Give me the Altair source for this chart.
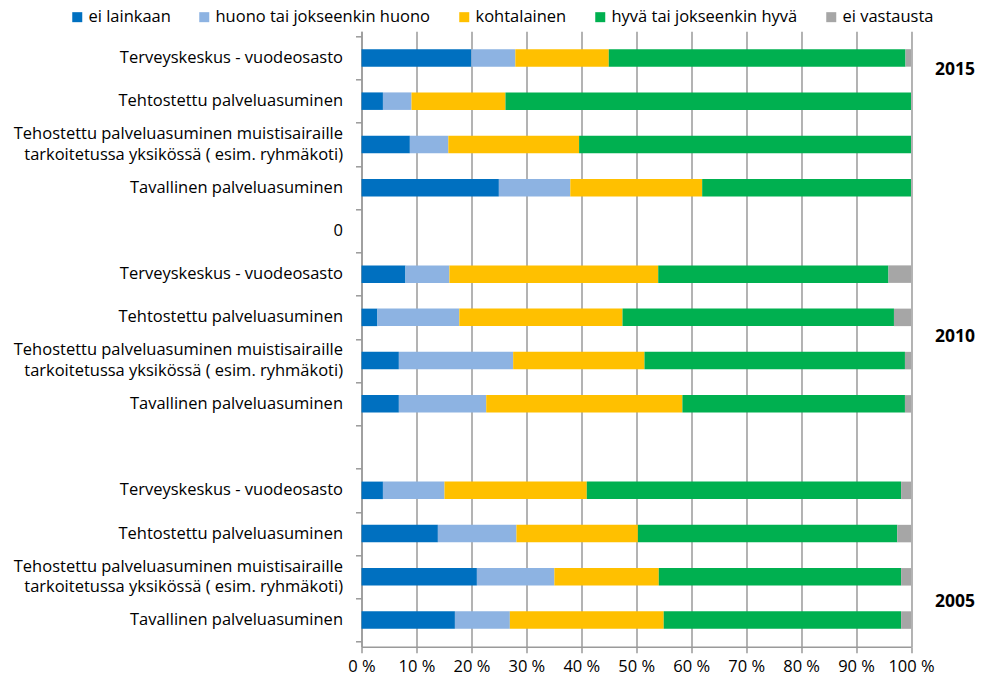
import altair as alt
import pandas as pd

# ---- data ----
row_labels = [
    "Terveyskeskus - vuodeosasto",
    "Tehtostettu palveluasuminen",
    "Tehostettu palveluasuminen muistisairaille\ntarkoitetussa yksikössä ( esim. ryhmäkoti)",
    "Tavallinen palveluasuminen",
    "0",
    "Terveyskeskus - vuodeosasto",
    "Tehtostettu palveluasuminen",
    "Tehostettu palveluasuminen muistisairaille\ntarkoitetussa yksikössä ( esim. ryhmäkoti)",
    "Tavallinen palveluasuminen",
    "",
    "Terveyskeskus - vuodeosasto",
    "Tehtostettu palveluasuminen",
    "Tehostettu palveluasuminen muistisairaille\ntarkoitetussa yksikössä ( esim. ryhmäkoti)",
    "Tavallinen palveluasuminen",
]
categories = ["ei lainkaan", "huono tai jokseenkin huono", "kohtalainen",
              "hyvä tai jokseenkin hyvä", "ei vastausta"]
colors = ["#0070C0", "#8DB3E2", "#FFC000", "#00B050", "#A6A6A6"]

ei_lainkaan = [20, 3.9, 8.8, 25, None, 8, 2.9, 6.8, 6.8, None, 3.9, 13.9, 21, 17]
huono = [8, 5.2, 7, 13, None, 8, 14.9, 20.8, 15.9, None, 11.2, 14.3, 14.1, 10]
kohtalainen = [17, 17.1, 23.8, 24, None, 38, 29.7, 23.9, 35.7, None, 25.9, 22.1, 19, 28]
hyva = [54, 73.8, 60.4, 38, None, 41.9, 49.4, 47.4, 40.5, None, 57.2, 47.2, 44.1, 43.2]
ei_vastausta = [1, 0, 0, 0, None, 4.1, 3.1, 1.1, 1.1, None, 1.8, 2.5, 1.8, 1.8]

years = ["2015", "2010", "2005"]
year_rows = [0.27, 6.45, 12.58]

x_ticks = [0, 10, 20, 30, 40, 50, 60, 70, 80, 90, 100]

# ---- build tables ----
series = [ei_lainkaan, huono, kohtalainen, hyva, ei_vastausta]
recs = []
for si, (cat, vals) in enumerate(zip(categories, series)):
    for r, v in enumerate(vals):
        if v is None:
            continue
        recs.append({"row": r, "cat": cat, "order": si, "value": v})
bars_df = pd.DataFrame(recs)
single_df = pd.DataFrame([{"row": i, "label": s} for i, s in enumerate(row_labels)
                          if "\n" not in s])
multi_df = pd.DataFrame([{"row": i, "label": s} for i, s in enumerate(row_labels)
                         if "\n" in s])
years_df = pd.DataFrame({"row": year_rows, "year": years})

FONT = "Open Sans"
GRAY = "#9a9a9a"
FS = 16.5
LH = 20.5

yscale = alt.Scale(domain=[-0.5, 13.5], reverse=True, nice=False, zero=False)
boundaries = [i - 0.5 for i in range(15)]

bars = alt.Chart(bars_df).mark_bar(size=17.5, orient="horizontal").encode(
    x=alt.X("value:Q", stack="zero",
            scale=alt.Scale(domain=[0, 100], nice=False),
            axis=alt.Axis(values=x_ticks, labelExpr="datum.value + ' %'",
                          title=None, grid=True, gridColor=GRAY, gridWidth=1.5,
                          domainColor=GRAY, domainWidth=1.5, tickColor=GRAY,
                          tickWidth=1.5, tickSize=6, labelPadding=6,
                          labelFont=FONT, labelFontSize=FS, labelColor="#000",
                          labelOverlap=False, labelFlush=False)),
    y=alt.Y("row:Q", scale=yscale,
            axis=alt.Axis(values=boundaries, labels=False, grid=False, title=None,
                          tickSize=6, tickColor=GRAY, tickWidth=1.5,
                          domainColor=GRAY, domainWidth=1.5)),
    color=alt.Color("cat:N", scale=alt.Scale(domain=categories, range=colors),
                    legend=alt.Legend(orient="none", legendX=-292.5, legendY=-22.5,
                                      direction="horizontal", title=None,
                                      symbolType="square", symbolSize=100,
                                      symbolStrokeWidth=0, labelFont=FONT,
                                      labelFontSize=FS, labelColor="#000",
                                      labelLimit=0, labelOffset=3,
                                      columnPadding=25)),
    order=alt.Order("order:Q"),
)

single_text = alt.Chart(single_df).mark_text(
    align="right", baseline="middle", font=FONT, fontSize=FS, color="#000"
).encode(
    x=alt.value(-18.5),
    y=alt.Y("row:Q", scale=yscale),
    text="label:N",
)

multi_text = alt.Chart(multi_df).mark_text(
    align="right", baseline="middle", lineBreak="\n", lineHeight=LH,
    dy=-LH / 2, font=FONT, fontSize=FS, color="#000"
).encode(
    x=alt.value(-18.5),
    y=alt.Y("row:Q", scale=yscale),
    text="label:N",
)

year_text = alt.Chart(years_df).mark_text(
    align="left", baseline="middle", font=FONT, fontSize=17.5,
    fontWeight="bold", color="#000"
).encode(
    x=alt.value(573.5),
    y=alt.Y("row:Q", scale=yscale),
    text="year:N",
)

chart = alt.layer(bars, single_text, multi_text, year_text).properties(
    width=549.5, height=615.4,
    autosize=alt.AutoSizeParams(type="none"),
    padding={"left": 353.5, "top": 23.3, "right": 68, "bottom": 33},
    background="white",
).configure_view(stroke=None)

chart.save("out.html", embed_options={"renderer": "svg", "actions": False})
